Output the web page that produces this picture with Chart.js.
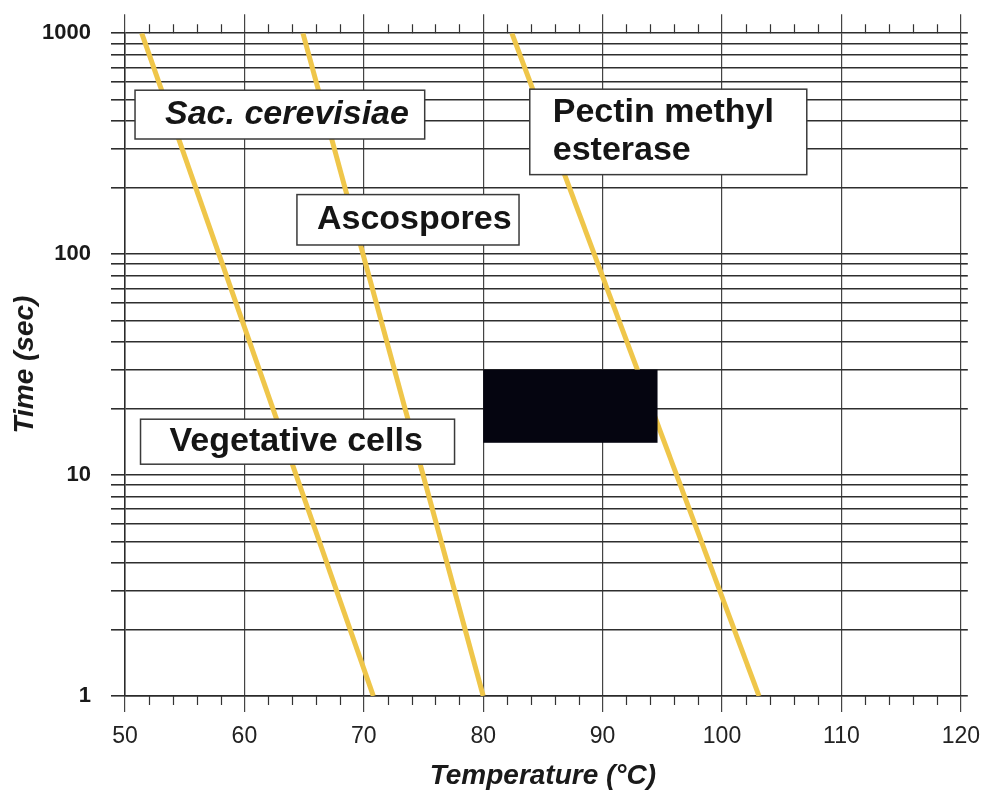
<!DOCTYPE html>
<html>
<head>
<meta charset="utf-8">
<script src="https://cdn.jsdelivr.net/npm/chart.js@4.4.1/dist/chart.umd.min.js"></script>
<style>
  html, body { margin: 0; padding: 0; background: #fff; }
</style>
</head>
<body>
<canvas id="chart" width="991" height="794"></canvas>
<script>
// temperature (°C) at which each inactivation line meets 1000 s and 1 s
const vegetativeTemp = [51.4, 70.8];
const vegetativeTime = [1000, 1];
const ascosporeTemp = [64.9, 80.0];
const ascosporeTime = [1000, 1];
const pmeTemp = [82.4, 103.1];
const pmeTime = [1000, 1];

// the black process window
const windowTemp = [80, 94.6];
const windowTime = [14, 30];

const xTicks = [50, 60, 70, 80, 90, 100, 110, 120];
const xMinorTicks = [];
for (let t = 52; t < 120; t += 2) if (t % 10 !== 0) xMinorTicks.push(t);

const yTicks = [1, 10, 100, 1000];
const yGrid = [];
[1, 10, 100].forEach(d => { for (let m = 1; m < 10; m++) yGrid.push(d * m); });
yGrid.push(1000);

const labelTexts = [
  ['Sac. cerevisiae'],
  ['Ascospores'],
  ['Pectin methyl', 'esterase'],
  ['Vegetative cells']
];

const FONT = "'Liberation Sans', Arial, Helvetica, sans-serif";
const LINE = '#efc64a';

function series(temps, times) {
  return {
    data: temps.map((t, i) => ({ x: t, y: times[i] })),
    showLine: true,
    borderColor: LINE,
    borderWidth: 5,
    pointRadius: 0,
    fill: false
  };
}

// short ticks every 2 °C along top and bottom edges
const minorTicks = {
  id: 'minorTicks',
  beforeDatasetsDraw(chart) {
    const { ctx, chartArea, scales } = chart;
    ctx.save();
    ctx.strokeStyle = '#333';
    ctx.lineWidth = 1.2;
    xMinorTicks.forEach(t => {
      const px = Math.round(scales.x.getPixelForValue(t)) + 0.5;
      ctx.beginPath();
      ctx.moveTo(px, chartArea.top - 9);
      ctx.lineTo(px, chartArea.top);
      ctx.moveTo(px, chartArea.bottom);
      ctx.lineTo(px, chartArea.bottom + 9);
      ctx.stroke();
    });
    ctx.restore();
  }
};

// black window + label boxes on top of the lines
const overlays = {
  id: 'overlays',
  afterDatasetsDraw(chart) {
    const { ctx, scales } = chart;
    const X = v => scales.x.getPixelForValue(v);
    const Y = v => scales.y.getPixelForValue(v);

    ctx.save();
    ctx.fillStyle = '#050510';
    const wx = X(windowTemp[0]), wy = Y(windowTime[1]);
    ctx.fillRect(wx, wy, X(windowTemp[1]) - wx, Y(windowTime[0]) - wy);

    // [left °C, right °C, top s, bottom s, text inset px, italic]
    const boxes = [
      [50.84, 75.1, 552, 332, 30, true],
      [64.4, 83.0, 186, 110, 20, false],
      [83.9, 107.1, 558, 229, 23, false],
      [51.3, 77.6, 17.9, 11.2, 29, false]
    ];
    boxes.forEach((b, i) => {
      const l = X(b[0]), r = X(b[1]), t = Y(b[2]), btm = Y(b[3]);
      ctx.fillStyle = '#fff';
      ctx.fillRect(l, t, r - l, btm - t);
      ctx.strokeStyle = '#3a3a3a';
      ctx.lineWidth = 1.5;
      ctx.strokeRect(l, t, r - l, btm - t);

      const lines = labelTexts[i];
      ctx.fillStyle = '#151515';
      ctx.font = (b[5] ? 'italic ' : '') + 'bold 34px ' + FONT;
      ctx.textAlign = 'left';
      ctx.textBaseline = 'middle';
      const mid = (t + btm) / 2;
      const step = 38;
      lines.forEach((s, k) => {
        ctx.fillText(s, l + b[4], mid + (k - (lines.length - 1) / 2) * step);
      });
    });
    ctx.restore();
  }
};

const linearTicks = s => { s.ticks = xTicks.map(v => ({ value: v })); };
const logTicks = s => { s.ticks = yGrid.map(v => ({ value: v })); };

new Chart(document.getElementById('chart'), {
  type: 'scatter',
  data: {
    datasets: [
      series(vegetativeTemp, vegetativeTime),
      series(ascosporeTemp, ascosporeTime),
      series(pmeTemp, pmeTime)
    ]
  },
  options: {
    responsive: false,
    animation: false,
    layout: { padding: 0 },
    plugins: { legend: { display: false }, tooltip: { enabled: false } },
    scales: {
      x: {
        type: 'linear',
        position: 'bottom',
        min: 50,
        max: 120,
        afterBuildTicks: linearTicks,
        afterFit: s => { s.height = 98; },
        grid: { color: '#444', lineWidth: 1.2, tickLength: 16 },
        border: { display: true, color: '#2a2a2a', width: 1.5 },
        ticks: {
          autoSkip: false,
          maxRotation: 0,
          padding: 11,
          color: '#222',
          font: { family: FONT, size: 23 }
        },
        title: {
          display: true,
          text: 'Temperature (°C)',
          color: '#1a1a1a',
          font: { family: FONT, size: 28, weight: 'bold', style: 'italic' },
          padding: { top: 0, bottom: 1 }
        }
      },
      xTop: {
        type: 'linear',
        position: 'top',
        min: 50,
        max: 120,
        afterBuildTicks: linearTicks,
        afterFit: s => { s.height = 31; },
        ticks: { display: false },
        grid: { drawOnChartArea: false, color: '#444', lineWidth: 1.2, tickLength: 19 },
        border: { display: false }
      },
      y: {
        type: 'logarithmic',
        position: 'left',
        min: 1,
        max: 1000,
        afterBuildTicks: logTicks,
        afterFit: s => { s.width = 125; },
        grid: { color: '#2e2e2e', lineWidth: 1.6, tickLength: 14 },
        border: { display: true, color: '#2a2a2a', width: 1.5 },
        ticks: {
          autoSkip: false,
          padding: 20,
          color: '#1a1a1a',
          font: { family: FONT, size: 22, weight: 'bold' },
          callback: v => (yTicks.includes(v) ? String(v) : '')
        },
        title: {
          display: true,
          text: 'Time (sec)',
          color: '#1a1a1a',
          font: { family: FONT, size: 28, weight: 'bold', style: 'italic' },
          padding: { top: 8, bottom: 0 }
        }
      },
      yRight: {
        type: 'logarithmic',
        position: 'right',
        min: 1,
        max: 1000,
        afterBuildTicks: logTicks,
        afterFit: s => { s.width = 29; },
        ticks: { display: false },
        grid: { drawOnChartArea: false, color: '#2e2e2e', lineWidth: 1.6, tickLength: 7 },
        border: { display: false }
      }
    }
  },
  plugins: [minorTicks, overlays]
});
</script>
</body>
</html>
